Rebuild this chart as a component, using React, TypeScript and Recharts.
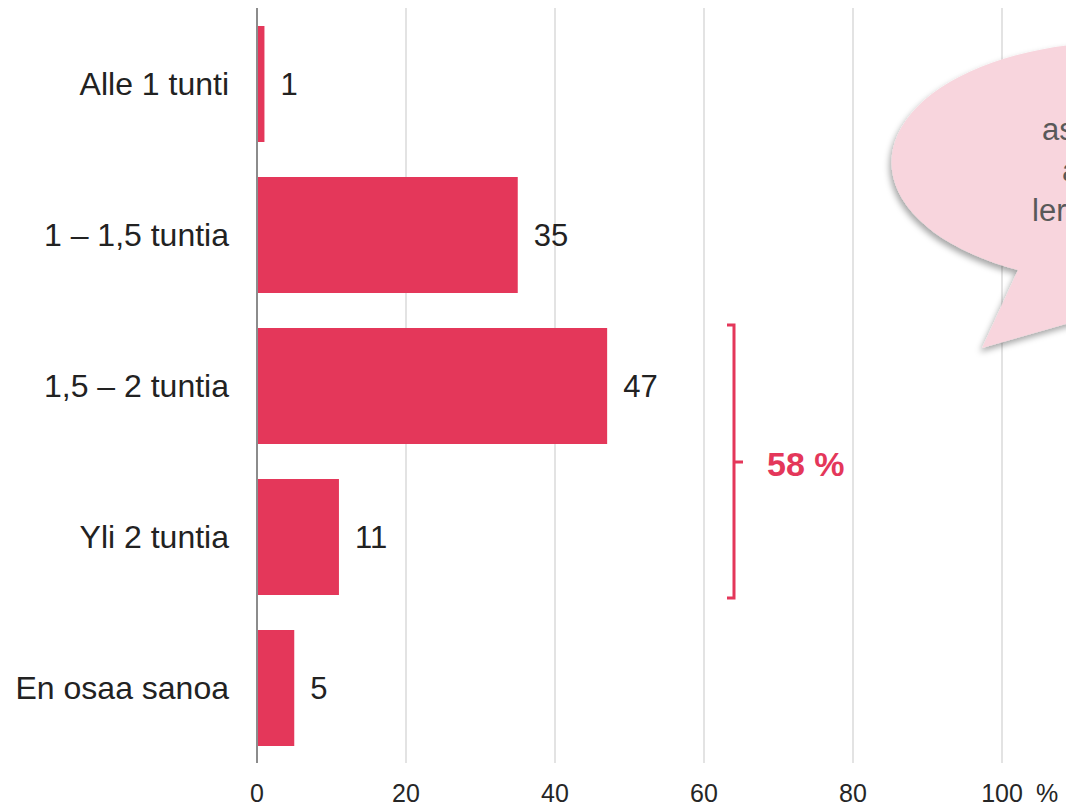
import React from "react";
import { BarChart, Bar, XAxis, YAxis, CartesianGrid, LabelList } from "recharts";

const categories = ["Alle 1 tunti", "1 – 1,5 tuntia", "1,5 – 2 tuntia", "Yli 2 tuntia", "En osaa sanoa"];
const values = [1, 35, 47, 11, 5];
const xTicks = [0, 20, 40, 60, 80, 100];
const bracketLabel = "58 %";
const bubbleLines = ["as", "a", "ler"];

const data = categories.map((name, i) => ({ name, value: values[i] }));

const RED = "#E4375A";
const FONT = "'Liberation Sans', Arial, sans-serif";

const XTick = (props: any) => {
  const { x, payload } = props;
  const isLast = payload.value === 100;
  return (
    <g fontSize={25} fill="#262626" fontFamily={FONT}>
      <text x={x} y={802} textAnchor="middle">
        {String(payload.value)}
      </text>
      {isLast ? (
        <text x={x + 34} y={802} textAnchor="start">
          %
        </text>
      ) : null}
    </g>
  );
};

export default function App() {
  return (
    <div style={{ position: "absolute", left: 0, top: 0, width: 1066, height: 807, background: "#fff" }}>
      <BarChart
        width={1066}
        height={807}
        data={data}
        layout="vertical"
        margin={{ top: 8, right: 64, left: 0, bottom: 0 }}
      >
        <CartesianGrid horizontal={false} stroke="#e3e3e3" strokeWidth={2} />
        <XAxis
          type="number"
          domain={[0, 100]}
          ticks={xTicks}
          height={44}
          axisLine={false}
          tickLine={false}
          tick={<XTick />}
          interval={0}
        />
        <YAxis
          type="category"
          dataKey="name"
          width={257}
          tickLine={false}
          tickSize={0}
          tickMargin={28}
          axisLine={{ stroke: "#8c8c8c", strokeWidth: 2 }}
          tick={{ fontSize: 32, fill: "#222", fontFamily: FONT }}
        />
        <Bar dataKey="value" fill={RED} barSize={116} isAnimationActive={false}>
          <LabelList dataKey="value" position="right" offset={16} fontSize={31} fill="#222" fontFamily={FONT} />
        </Bar>
      </BarChart>
      <svg
        width={1066}
        height={807}
        style={{ position: "absolute", left: 0, top: 0, pointerEvents: "none" }}
      >
        <defs>
          <filter id="shadow" x="-20%" y="-20%" width="140%" height="150%">
            <feDropShadow dx={-2} dy={4} stdDeviation={3} floodColor="#000" floodOpacity={0.35} />
          </filter>
        </defs>
        <path
          d="M 1018 270 A 227 120 0 1 1 1100 282 L 1150 300 L 982 348 Z"
          fill="#F8D5DD"
          filter="url(#shadow)"
        />
        <g fontFamily={FONT} fontSize={31} fill="#595959">
          <text x={1042} y={140}>{bubbleLines[0]}</text>
          <text x={1062} y={181}>{bubbleLines[1]}</text>
          <text x={1032} y={221}>{bubbleLines[2]}</text>
        </g>
        <path
          d="M 727 325 L 734 325 L 734 598 L 727 598 M 734 462 L 743 462"
          fill="none"
          stroke={RED}
          strokeWidth={3}
        />
        <text x={767} y={476} fontFamily={FONT} fontSize={34} fontWeight="bold" fill={RED}>
          {bracketLabel}
        </text>
      </svg>
    </div>
  );
}
